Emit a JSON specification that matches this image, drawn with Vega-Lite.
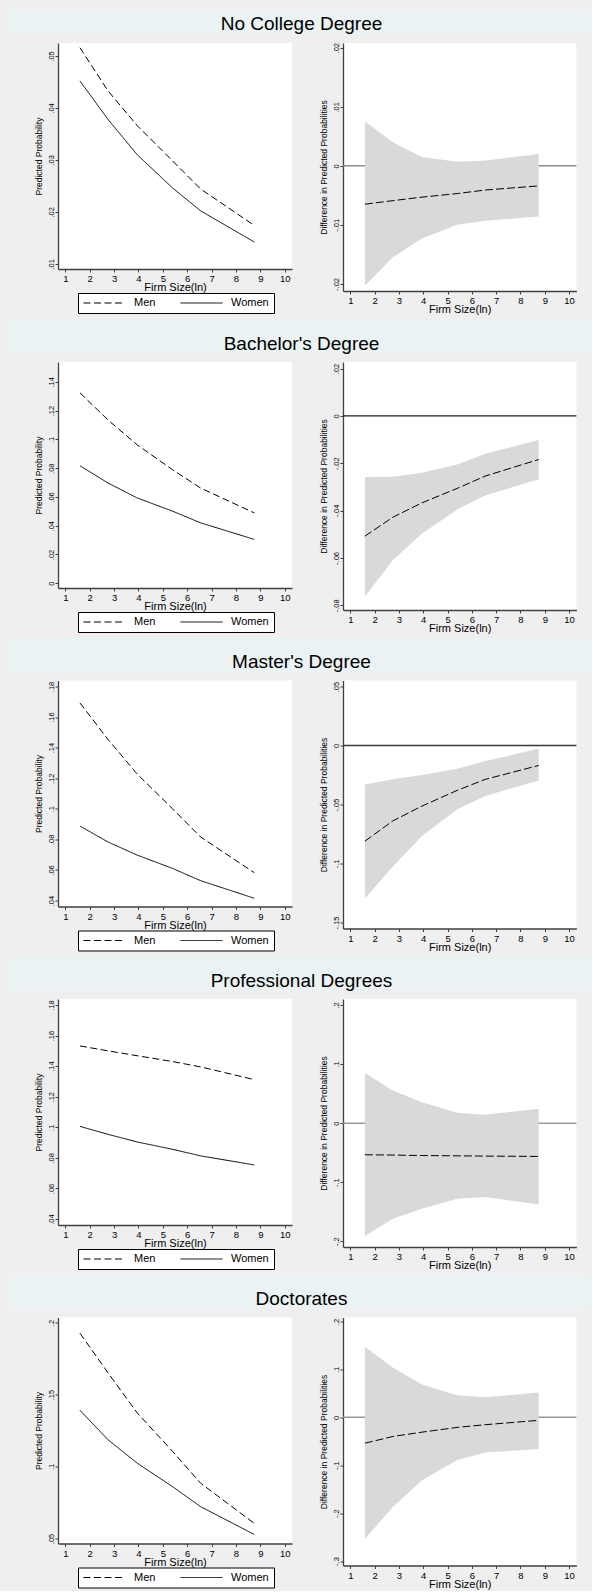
{
  "$schema": "https://vega.github.io/schema/vega-lite/v6.json",
  "background": "#efefef",
  "padding": {"left": 9, "top": 10, "right": 2, "bottom": 2},
  "spacing": 4.5,
  "resolve": {"scale": {"strokeDash": "independent"}, "legend": {"strokeDash": "independent"}},
  "datasets": {
    "titles": [
      {"edu": "NC", "label": "No College Degree"},
      {"edu": "BA", "label": "Bachelor's Degree"},
      {"edu": "MA", "label": "Master's Degree"},
      {"edu": "PR", "label": "Professional Degrees"},
      {"edu": "DR", "label": "Doctorates"}
    ],
    "pred": [
      {"edu": "NC", "sex": "Men", "firm": 1.6, "p": 0.0516}, {"edu": "NC", "sex": "Men", "firm": 2.75, "p": 0.0433}, {"edu": "NC", "sex": "Men", "firm": 3.95, "p": 0.0366}, {"edu": "NC", "sex": "Men", "firm": 5.4, "p": 0.0298}, {"edu": "NC", "sex": "Men", "firm": 6.55, "p": 0.0244}, {"edu": "NC", "sex": "Men", "firm": 8.75, "p": 0.0174},
      {"edu": "NC", "sex": "Women", "firm": 1.6, "p": 0.0452}, {"edu": "NC", "sex": "Women", "firm": 2.75, "p": 0.0378}, {"edu": "NC", "sex": "Women", "firm": 3.95, "p": 0.0310}, {"edu": "NC", "sex": "Women", "firm": 5.4, "p": 0.0246}, {"edu": "NC", "sex": "Women", "firm": 6.55, "p": 0.0202}, {"edu": "NC", "sex": "Women", "firm": 8.75, "p": 0.0142},
      {"edu": "BA", "sex": "Men", "firm": 1.6, "p": 0.1324}, {"edu": "BA", "sex": "Men", "firm": 2.75, "p": 0.1135}, {"edu": "BA", "sex": "Men", "firm": 3.95, "p": 0.0962}, {"edu": "BA", "sex": "Men", "firm": 5.4, "p": 0.0789}, {"edu": "BA", "sex": "Men", "firm": 6.55, "p": 0.0662}, {"edu": "BA", "sex": "Men", "firm": 8.75, "p": 0.0489},
      {"edu": "BA", "sex": "Women", "firm": 1.6, "p": 0.0817}, {"edu": "BA", "sex": "Women", "firm": 2.75, "p": 0.0697}, {"edu": "BA", "sex": "Women", "firm": 3.95, "p": 0.0593}, {"edu": "BA", "sex": "Women", "firm": 5.4, "p": 0.0501}, {"edu": "BA", "sex": "Women", "firm": 6.55, "p": 0.0420}, {"edu": "BA", "sex": "Women", "firm": 8.75, "p": 0.0305},
      {"edu": "MA", "sex": "Men", "firm": 1.6, "p": 0.1692}, {"edu": "MA", "sex": "Men", "firm": 2.75, "p": 0.1454}, {"edu": "MA", "sex": "Men", "firm": 3.95, "p": 0.1227}, {"edu": "MA", "sex": "Men", "firm": 5.4, "p": 0.1000}, {"edu": "MA", "sex": "Men", "firm": 6.55, "p": 0.0816}, {"edu": "MA", "sex": "Men", "firm": 8.75, "p": 0.0582},
      {"edu": "MA", "sex": "Women", "firm": 1.6, "p": 0.0887}, {"edu": "MA", "sex": "Women", "firm": 2.75, "p": 0.0783}, {"edu": "MA", "sex": "Women", "firm": 3.95, "p": 0.0697}, {"edu": "MA", "sex": "Women", "firm": 5.4, "p": 0.0610}, {"edu": "MA", "sex": "Women", "firm": 6.55, "p": 0.0530}, {"edu": "MA", "sex": "Women", "firm": 8.75, "p": 0.0415},
      {"edu": "PR", "sex": "Men", "firm": 1.6, "p": 0.1532}, {"edu": "PR", "sex": "Men", "firm": 2.75, "p": 0.1500}, {"edu": "PR", "sex": "Men", "firm": 3.95, "p": 0.1468}, {"edu": "PR", "sex": "Men", "firm": 5.4, "p": 0.1430}, {"edu": "PR", "sex": "Men", "firm": 6.55, "p": 0.1395}, {"edu": "PR", "sex": "Men", "firm": 8.75, "p": 0.1312},
      {"edu": "PR", "sex": "Women", "firm": 1.6, "p": 0.1006}, {"edu": "PR", "sex": "Women", "firm": 2.75, "p": 0.0954}, {"edu": "PR", "sex": "Women", "firm": 3.95, "p": 0.0904}, {"edu": "PR", "sex": "Women", "firm": 5.4, "p": 0.0856}, {"edu": "PR", "sex": "Women", "firm": 6.55, "p": 0.0813}, {"edu": "PR", "sex": "Women", "firm": 8.75, "p": 0.0754},
      {"edu": "DR", "sex": "Men", "firm": 1.6, "p": 0.1926}, {"edu": "DR", "sex": "Men", "firm": 2.75, "p": 0.1651}, {"edu": "DR", "sex": "Men", "firm": 3.95, "p": 0.1372}, {"edu": "DR", "sex": "Men", "firm": 5.4, "p": 0.1105}, {"edu": "DR", "sex": "Men", "firm": 6.55, "p": 0.0884}, {"edu": "DR", "sex": "Men", "firm": 8.75, "p": 0.0605},
      {"edu": "DR", "sex": "Women", "firm": 1.6, "p": 0.1391}, {"edu": "DR", "sex": "Women", "firm": 2.75, "p": 0.1186}, {"edu": "DR", "sex": "Women", "firm": 3.95, "p": 0.1023}, {"edu": "DR", "sex": "Women", "firm": 5.4, "p": 0.0860}, {"edu": "DR", "sex": "Women", "firm": 6.55, "p": 0.0721}, {"edu": "DR", "sex": "Women", "firm": 8.75, "p": 0.0528}
    ],
    "diff": [
      {"edu": "NC", "firm": 1.6, "d": -0.0065, "lo": -0.0203, "hi": 0.0075}, {"edu": "NC", "firm": 2.75, "d": -0.0059, "lo": -0.0155, "hi": 0.0040}, {"edu": "NC", "firm": 3.95, "d": -0.0053, "lo": -0.0123, "hi": 0.0015}, {"edu": "NC", "firm": 5.4, "d": -0.0047, "lo": -0.0100, "hi": 0.0007}, {"edu": "NC", "firm": 6.55, "d": -0.0041, "lo": -0.0093, "hi": 0.0009}, {"edu": "NC", "firm": 8.75, "d": -0.0034, "lo": -0.0086, "hi": 0.0020},
      {"edu": "BA", "firm": 1.6, "d": -0.0508, "lo": -0.0763, "hi": -0.0258}, {"edu": "BA", "firm": 2.75, "d": -0.0428, "lo": -0.0610, "hi": -0.0257}, {"edu": "BA", "firm": 3.95, "d": -0.0367, "lo": -0.0497, "hi": -0.0240}, {"edu": "BA", "firm": 5.4, "d": -0.0306, "lo": -0.0395, "hi": -0.0205}, {"edu": "BA", "firm": 6.55, "d": -0.0254, "lo": -0.0336, "hi": -0.0160}, {"edu": "BA", "firm": 8.75, "d": -0.0184, "lo": -0.0268, "hi": -0.0102},
      {"edu": "MA", "firm": 1.6, "d": -0.0811, "lo": -0.1296, "hi": -0.0330}, {"edu": "MA", "firm": 2.75, "d": -0.0639, "lo": -0.1025, "hi": -0.0287}, {"edu": "MA", "firm": 3.95, "d": -0.0513, "lo": -0.0766, "hi": -0.0251}, {"edu": "MA", "firm": 5.4, "d": -0.0380, "lo": -0.0541, "hi": -0.0197}, {"edu": "MA", "firm": 6.55, "d": -0.0287, "lo": -0.0428, "hi": -0.0132}, {"edu": "MA", "firm": 8.75, "d": -0.0169, "lo": -0.0296, "hi": -0.0028},
      {"edu": "PR", "firm": 1.6, "d": -0.0535, "lo": -0.1910, "hi": 0.0850}, {"edu": "PR", "firm": 2.75, "d": -0.0540, "lo": -0.1617, "hi": 0.0552}, {"edu": "PR", "firm": 3.95, "d": -0.0548, "lo": -0.1448, "hi": 0.0355}, {"edu": "PR", "firm": 5.4, "d": -0.0553, "lo": -0.1279, "hi": 0.0175}, {"edu": "PR", "firm": 6.55, "d": -0.0558, "lo": -0.1250, "hi": 0.0141}, {"edu": "PR", "firm": 8.75, "d": -0.0563, "lo": -0.1375, "hi": 0.0242},
      {"edu": "DR", "firm": 1.6, "d": -0.0540, "lo": -0.2539, "hi": 0.1473}, {"edu": "DR", "firm": 2.75, "d": -0.0400, "lo": -0.1872, "hi": 0.1038}, {"edu": "DR", "firm": 3.95, "d": -0.0309, "lo": -0.1311, "hi": 0.0687}, {"edu": "DR", "firm": 5.4, "d": -0.0210, "lo": -0.0891, "hi": 0.0463}, {"edu": "DR", "firm": 6.55, "d": -0.0154, "lo": -0.0736, "hi": 0.0421}, {"edu": "DR", "firm": 8.75, "d": -0.0063, "lo": -0.0659, "hi": 0.0519}
    ],
    "zero": [{"ref": 0}],
    "blank": [{"ref": 0}]
  },
  "vconcat": [
    {
      "spacing": 8,
      "resolve": {"scale": {"strokeDash": "independent"}, "legend": {"strokeDash": "independent"}},
      "vconcat": [
        {"width": 581, "height": 24, "view": {"fill": "#eaf2f3", "stroke": null}, "data": {"name": "titles"}, "transform": [{"filter": "datum.edu === 'NC'"}], "mark": {"type": "text", "fontSize": 19, "baseline": "middle", "dy": 1.5, "dx": 2, "color": "black"}, "encoding": {"text": {"field": "label", "type": "nominal"}}},
        {
          "spacing": 0,
          "resolve": {"scale": {"strokeDash": "independent"}, "legend": {"strokeDash": "independent"}},
          "hconcat": [
            {"width": 1, "height": 1, "view": {"fill": null, "stroke": null}, "data": {"name": "blank"}, "mark": {"type": "rect", "opacity": 0}, "encoding": {}},
            {
              "width": 234, "height": 226,
              "data": {"name": "pred"}, "transform": [{"filter": "datum.edu === 'NC'"}],
              "mark": {"type": "line", "color": "black", "strokeWidth": 1},
              "encoding": {
                "x": {"field": "firm", "type": "quantitative", "scale": {"domain": [0.7, 10.3], "nice": false, "zero": false}, "axis": {"title": "Firm Size(ln)", "values": [1, 2, 3, 4, 5, 6, 7, 8, 9, 10]}},
                "y": {"field": "p", "type": "quantitative", "scale": {"domain": [0.009, 0.0525], "nice": false, "zero": false}, "axis": {"title": "Predicted Probability", "titleX": -14.5, "values": [0.01, 0.02, 0.03, 0.04, 0.05], "labelExpr": "replace(toString(datum.value), regexp('^(-?)0[.]'), '$1.')"}},
                "strokeDash": {"field": "sex", "type": "nominal", "scale": {"domain": ["Men", "Women"], "range": [[7, 3.5], [1, 0]]}, "legend": {"title": null, "orient": "none", "legendX": 20, "legendY": 250, "direction": "horizontal"}}
              }
            },
            {
              "width": 233.4, "height": 248,
              "layer": [
                {"data": {"name": "zero"}, "mark": {"type": "rule", "color": "#8c8c8c", "strokeWidth": 1.5}, "encoding": {"y": {"field": "ref", "type": "quantitative", "scale": {"domain": [-0.0212, 0.0208], "nice": false, "zero": false}, "axis": {"title": "Difference in Predicted Probabilities", "titleX": -14.5, "minExtent": 50.3, "maxExtent": 50.3, "values": [-0.02, -0.01, 0, 0.01, 0.02], "labelExpr": "replace(toString(datum.value), regexp('^(-?)0[.]'), '$1.')"}}}},
                {"data": {"name": "diff"}, "transform": [{"filter": "datum.edu === 'NC'"}], "mark": {"type": "area", "color": "#d9d9d9", "opacity": 1}, "encoding": {"x": {"field": "firm", "type": "quantitative", "scale": {"domain": [0.7, 10.3], "nice": false, "zero": false}, "axis": {"title": "Firm Size(ln)", "values": [1, 2, 3, 4, 5, 6, 7, 8, 9, 10]}}, "y": {"field": "lo", "type": "quantitative", "scale": {"domain": [-0.0212, 0.0208], "nice": false, "zero": false}, "axis": {"title": "Difference in Predicted Probabilities", "titleX": -14.5, "minExtent": 50.3, "maxExtent": 50.3, "values": [-0.02, -0.01, 0, 0.01, 0.02], "labelExpr": "replace(toString(datum.value), regexp('^(-?)0[.]'), '$1.')"}}, "y2": {"field": "hi"}}},
                {"data": {"name": "diff"}, "transform": [{"filter": "datum.edu === 'NC'"}], "mark": {"type": "line", "color": "black", "strokeWidth": 1, "strokeDash": [8, 3]}, "encoding": {"x": {"field": "firm", "type": "quantitative", "scale": {"domain": [0.7, 10.3], "nice": false, "zero": false}, "axis": {"title": "Firm Size(ln)", "values": [1, 2, 3, 4, 5, 6, 7, 8, 9, 10]}}, "y": {"field": "d", "type": "quantitative", "scale": {"domain": [-0.0212, 0.0208], "nice": false, "zero": false}, "axis": {"title": "Difference in Predicted Probabilities", "titleX": -14.5, "minExtent": 50.3, "maxExtent": 50.3, "values": [-0.02, -0.01, 0, 0.01, 0.02], "labelExpr": "replace(toString(datum.value), regexp('^(-?)0[.]'), '$1.')"}}}}
              ]
            }
          ]
        }
      ]
    },
    {
      "spacing": 8.5,
      "resolve": {"scale": {"strokeDash": "independent"}, "legend": {"strokeDash": "independent"}},
      "vconcat": [
        {"width": 581, "height": 34, "view": {"fill": "#eaf2f3", "stroke": null}, "data": {"name": "titles"}, "transform": [{"filter": "datum.edu === 'BA'"}], "mark": {"type": "text", "fontSize": 19, "baseline": "middle", "dy": 7, "dx": 2, "color": "black"}, "encoding": {"text": {"field": "label", "type": "nominal"}}},
        {
          "spacing": 0,
          "resolve": {"scale": {"strokeDash": "independent"}, "legend": {"strokeDash": "independent"}},
          "hconcat": [
            {"width": 1, "height": 1, "view": {"fill": null, "stroke": null}, "data": {"name": "blank"}, "mark": {"type": "rect", "opacity": 0}, "encoding": {}},
            {
              "width": 234, "height": 226,
              "data": {"name": "pred"}, "transform": [{"filter": "datum.edu === 'BA'"}],
              "mark": {"type": "line", "color": "black", "strokeWidth": 1},
              "encoding": {
                "x": {"field": "firm", "type": "quantitative", "scale": {"domain": [0.7, 10.3], "nice": false, "zero": false}, "axis": {"title": "Firm Size(ln)", "values": [1, 2, 3, 4, 5, 6, 7, 8, 9, 10]}},
                "y": {"field": "p", "type": "quantitative", "scale": {"domain": [-0.0033, 0.1538], "nice": false, "zero": false}, "axis": {"title": "Predicted Probability", "titleX": -14.5, "values": [0, 0.02, 0.04, 0.06, 0.08, 0.1, 0.12, 0.14], "labelExpr": "replace(toString(datum.value), regexp('^(-?)0[.]'), '$1.')"}},
                "strokeDash": {"field": "sex", "type": "nominal", "scale": {"domain": ["Men", "Women"], "range": [[7, 3.5], [1, 0]]}, "legend": {"title": null, "orient": "none", "legendX": 20, "legendY": 250, "direction": "horizontal"}}
              }
            },
            {
              "width": 233.4, "height": 248,
              "layer": [
                {"data": {"name": "zero"}, "mark": {"type": "rule", "color": "#1e1e1e", "strokeWidth": 1.3}, "encoding": {"y": {"field": "ref", "type": "quantitative", "scale": {"domain": [-0.082, 0.0228], "nice": false, "zero": false}, "axis": {"title": "Difference in Predicted Probabilities", "titleX": -14.5, "minExtent": 50.3, "maxExtent": 50.3, "values": [-0.08, -0.06, -0.04, -0.02, 0, 0.02], "labelExpr": "replace(toString(datum.value), regexp('^(-?)0[.]'), '$1.')"}}}},
                {"data": {"name": "diff"}, "transform": [{"filter": "datum.edu === 'BA'"}], "mark": {"type": "area", "color": "#d9d9d9", "opacity": 1}, "encoding": {"x": {"field": "firm", "type": "quantitative", "scale": {"domain": [0.7, 10.3], "nice": false, "zero": false}, "axis": {"title": "Firm Size(ln)", "values": [1, 2, 3, 4, 5, 6, 7, 8, 9, 10]}}, "y": {"field": "lo", "type": "quantitative", "scale": {"domain": [-0.082, 0.0228], "nice": false, "zero": false}, "axis": {"title": "Difference in Predicted Probabilities", "titleX": -14.5, "minExtent": 50.3, "maxExtent": 50.3, "values": [-0.08, -0.06, -0.04, -0.02, 0, 0.02], "labelExpr": "replace(toString(datum.value), regexp('^(-?)0[.]'), '$1.')"}}, "y2": {"field": "hi"}}},
                {"data": {"name": "diff"}, "transform": [{"filter": "datum.edu === 'BA'"}], "mark": {"type": "line", "color": "black", "strokeWidth": 1, "strokeDash": [8, 3]}, "encoding": {"x": {"field": "firm", "type": "quantitative", "scale": {"domain": [0.7, 10.3], "nice": false, "zero": false}, "axis": {"title": "Firm Size(ln)", "values": [1, 2, 3, 4, 5, 6, 7, 8, 9, 10]}}, "y": {"field": "d", "type": "quantitative", "scale": {"domain": [-0.082, 0.0228], "nice": false, "zero": false}, "axis": {"title": "Difference in Predicted Probabilities", "titleX": -14.5, "minExtent": 50.3, "maxExtent": 50.3, "values": [-0.08, -0.06, -0.04, -0.02, 0, 0.02], "labelExpr": "replace(toString(datum.value), regexp('^(-?)0[.]'), '$1.')"}}}}
              ]
            }
          ]
        }
      ]
    },
    {
      "spacing": 8.5,
      "resolve": {"scale": {"strokeDash": "independent"}, "legend": {"strokeDash": "independent"}},
      "vconcat": [
        {"width": 581, "height": 34, "view": {"fill": "#eaf2f3", "stroke": null}, "data": {"name": "titles"}, "transform": [{"filter": "datum.edu === 'MA'"}], "mark": {"type": "text", "fontSize": 19, "baseline": "middle", "dy": 7, "dx": 2, "color": "black"}, "encoding": {"text": {"field": "label", "type": "nominal"}}},
        {
          "spacing": 0,
          "resolve": {"scale": {"strokeDash": "independent"}, "legend": {"strokeDash": "independent"}},
          "hconcat": [
            {"width": 1, "height": 1, "view": {"fill": null, "stroke": null}, "data": {"name": "blank"}, "mark": {"type": "rect", "opacity": 0}, "encoding": {}},
            {
              "width": 234, "height": 226,
              "data": {"name": "pred"}, "transform": [{"filter": "datum.edu === 'MA'"}],
              "mark": {"type": "line", "color": "black", "strokeWidth": 1},
              "encoding": {
                "x": {"field": "firm", "type": "quantitative", "scale": {"domain": [0.7, 10.3], "nice": false, "zero": false}, "axis": {"title": "Firm Size(ln)", "values": [1, 2, 3, 4, 5, 6, 7, 8, 9, 10]}},
                "y": {"field": "p", "type": "quantitative", "scale": {"domain": [0.0361, 0.1839], "nice": false, "zero": false}, "axis": {"title": "Predicted Probability", "titleX": -14.5, "values": [0.04, 0.06, 0.08, 0.1, 0.12, 0.14, 0.16, 0.18], "labelExpr": "replace(toString(datum.value), regexp('^(-?)0[.]'), '$1.')"}},
                "strokeDash": {"field": "sex", "type": "nominal", "scale": {"domain": ["Men", "Women"], "range": [[7, 3.5], [1, 0]]}, "legend": {"title": null, "orient": "none", "legendX": 20, "legendY": 250, "direction": "horizontal"}}
              }
            },
            {
              "width": 233.4, "height": 248,
              "layer": [
                {"data": {"name": "zero"}, "mark": {"type": "rule", "color": "#3a3a3a", "strokeWidth": 1.3}, "encoding": {"y": {"field": "ref", "type": "quantitative", "scale": {"domain": [-0.1551, 0.0551], "nice": false, "zero": false}, "axis": {"title": "Difference in Predicted Probabilities", "titleX": -14.5, "minExtent": 50.3, "maxExtent": 50.3, "values": [-0.15, -0.1, -0.05, 0, 0.05], "labelExpr": "replace(toString(datum.value), regexp('^(-?)0[.]'), '$1.')"}}}},
                {"data": {"name": "diff"}, "transform": [{"filter": "datum.edu === 'MA'"}], "mark": {"type": "area", "color": "#d9d9d9", "opacity": 1}, "encoding": {"x": {"field": "firm", "type": "quantitative", "scale": {"domain": [0.7, 10.3], "nice": false, "zero": false}, "axis": {"title": "Firm Size(ln)", "values": [1, 2, 3, 4, 5, 6, 7, 8, 9, 10]}}, "y": {"field": "lo", "type": "quantitative", "scale": {"domain": [-0.1551, 0.0551], "nice": false, "zero": false}, "axis": {"title": "Difference in Predicted Probabilities", "titleX": -14.5, "minExtent": 50.3, "maxExtent": 50.3, "values": [-0.15, -0.1, -0.05, 0, 0.05], "labelExpr": "replace(toString(datum.value), regexp('^(-?)0[.]'), '$1.')"}}, "y2": {"field": "hi"}}},
                {"data": {"name": "diff"}, "transform": [{"filter": "datum.edu === 'MA'"}], "mark": {"type": "line", "color": "black", "strokeWidth": 1, "strokeDash": [8, 3]}, "encoding": {"x": {"field": "firm", "type": "quantitative", "scale": {"domain": [0.7, 10.3], "nice": false, "zero": false}, "axis": {"title": "Firm Size(ln)", "values": [1, 2, 3, 4, 5, 6, 7, 8, 9, 10]}}, "y": {"field": "d", "type": "quantitative", "scale": {"domain": [-0.1551, 0.0551], "nice": false, "zero": false}, "axis": {"title": "Difference in Predicted Probabilities", "titleX": -14.5, "minExtent": 50.3, "maxExtent": 50.3, "values": [-0.15, -0.1, -0.05, 0, 0.05], "labelExpr": "replace(toString(datum.value), regexp('^(-?)0[.]'), '$1.')"}}}}
              ]
            }
          ]
        }
      ]
    },
    {
      "spacing": 8.5,
      "resolve": {"scale": {"strokeDash": "independent"}, "legend": {"strokeDash": "independent"}},
      "vconcat": [
        {"width": 581, "height": 34, "view": {"fill": "#eaf2f3", "stroke": null}, "data": {"name": "titles"}, "transform": [{"filter": "datum.edu === 'PR'"}], "mark": {"type": "text", "fontSize": 19, "baseline": "middle", "dy": 7, "dx": 2, "color": "black"}, "encoding": {"text": {"field": "label", "type": "nominal"}}},
        {
          "spacing": 0,
          "resolve": {"scale": {"strokeDash": "independent"}, "legend": {"strokeDash": "independent"}},
          "hconcat": [
            {"width": 1, "height": 1, "view": {"fill": null, "stroke": null}, "data": {"name": "blank"}, "mark": {"type": "rect", "opacity": 0}, "encoding": {}},
            {
              "width": 234, "height": 226,
              "data": {"name": "pred"}, "transform": [{"filter": "datum.edu === 'PR'"}],
              "mark": {"type": "line", "color": "black", "strokeWidth": 1},
              "encoding": {
                "x": {"field": "firm", "type": "quantitative", "scale": {"domain": [0.7, 10.3], "nice": false, "zero": false}, "axis": {"title": "Firm Size(ln)", "values": [1, 2, 3, 4, 5, 6, 7, 8, 9, 10]}},
                "y": {"field": "p", "type": "quantitative", "scale": {"domain": [0.0361, 0.1839], "nice": false, "zero": false}, "axis": {"title": "Predicted Probability", "titleX": -14.5, "values": [0.04, 0.06, 0.08, 0.1, 0.12, 0.14, 0.16, 0.18], "labelExpr": "replace(toString(datum.value), regexp('^(-?)0[.]'), '$1.')"}},
                "strokeDash": {"field": "sex", "type": "nominal", "scale": {"domain": ["Men", "Women"], "range": [[7, 3.5], [1, 0]]}, "legend": {"title": null, "orient": "none", "legendX": 20, "legendY": 250, "direction": "horizontal"}}
              }
            },
            {
              "width": 233.4, "height": 248,
              "layer": [
                {"data": {"name": "zero"}, "mark": {"type": "rule", "color": "#999999", "strokeWidth": 1.5}, "encoding": {"y": {"field": "ref", "type": "quantitative", "scale": {"domain": [-0.2096, 0.2101], "nice": false, "zero": false}, "axis": {"title": "Difference in Predicted Probabilities", "titleX": -14.5, "minExtent": 50.3, "maxExtent": 50.3, "values": [-0.2, -0.1, 0, 0.1, 0.2], "labelExpr": "replace(toString(datum.value), regexp('^(-?)0[.]'), '$1.')"}}}},
                {"data": {"name": "diff"}, "transform": [{"filter": "datum.edu === 'PR'"}], "mark": {"type": "area", "color": "#d9d9d9", "opacity": 1}, "encoding": {"x": {"field": "firm", "type": "quantitative", "scale": {"domain": [0.7, 10.3], "nice": false, "zero": false}, "axis": {"title": "Firm Size(ln)", "values": [1, 2, 3, 4, 5, 6, 7, 8, 9, 10]}}, "y": {"field": "lo", "type": "quantitative", "scale": {"domain": [-0.2096, 0.2101], "nice": false, "zero": false}, "axis": {"title": "Difference in Predicted Probabilities", "titleX": -14.5, "minExtent": 50.3, "maxExtent": 50.3, "values": [-0.2, -0.1, 0, 0.1, 0.2], "labelExpr": "replace(toString(datum.value), regexp('^(-?)0[.]'), '$1.')"}}, "y2": {"field": "hi"}}},
                {"data": {"name": "diff"}, "transform": [{"filter": "datum.edu === 'PR'"}], "mark": {"type": "line", "color": "black", "strokeWidth": 1, "strokeDash": [8, 3]}, "encoding": {"x": {"field": "firm", "type": "quantitative", "scale": {"domain": [0.7, 10.3], "nice": false, "zero": false}, "axis": {"title": "Firm Size(ln)", "values": [1, 2, 3, 4, 5, 6, 7, 8, 9, 10]}}, "y": {"field": "d", "type": "quantitative", "scale": {"domain": [-0.2096, 0.2101], "nice": false, "zero": false}, "axis": {"title": "Difference in Predicted Probabilities", "titleX": -14.5, "minExtent": 50.3, "maxExtent": 50.3, "values": [-0.2, -0.1, 0, 0.1, 0.2], "labelExpr": "replace(toString(datum.value), regexp('^(-?)0[.]'), '$1.')"}}}}
              ]
            }
          ]
        }
      ]
    },
    {
      "spacing": 8.5,
      "resolve": {"scale": {"strokeDash": "independent"}, "legend": {"strokeDash": "independent"}},
      "vconcat": [
        {"width": 581, "height": 34, "view": {"fill": "#eaf2f3", "stroke": null}, "data": {"name": "titles"}, "transform": [{"filter": "datum.edu === 'DR'"}], "mark": {"type": "text", "fontSize": 19, "baseline": "middle", "dy": 7, "dx": 2, "color": "black"}, "encoding": {"text": {"field": "label", "type": "nominal"}}},
        {
          "spacing": 0,
          "resolve": {"scale": {"strokeDash": "independent"}, "legend": {"strokeDash": "independent"}},
          "hconcat": [
            {"width": 1, "height": 1, "view": {"fill": null, "stroke": null}, "data": {"name": "blank"}, "mark": {"type": "rect", "opacity": 0}, "encoding": {}},
            {
              "width": 234, "height": 226,
              "data": {"name": "pred"}, "transform": [{"filter": "datum.edu === 'DR'"}],
              "mark": {"type": "line", "color": "black", "strokeWidth": 1},
              "encoding": {
                "x": {"field": "firm", "type": "quantitative", "scale": {"domain": [0.7, 10.3], "nice": false, "zero": false}, "axis": {"title": "Firm Size(ln)", "values": [1, 2, 3, 4, 5, 6, 7, 8, 9, 10]}},
                "y": {"field": "p", "type": "quantitative", "scale": {"domain": [0.0465, 0.2035], "nice": false, "zero": false}, "axis": {"title": "Predicted Probability", "titleX": -14.5, "values": [0.05, 0.1, 0.15, 0.2], "labelExpr": "replace(toString(datum.value), regexp('^(-?)0[.]'), '$1.')"}},
                "strokeDash": {"field": "sex", "type": "nominal", "scale": {"domain": ["Men", "Women"], "range": [[7, 3.5], [1, 0]]}, "legend": {"title": null, "orient": "none", "legendX": 20, "legendY": 250, "direction": "horizontal"}}
              }
            },
            {
              "width": 233.4, "height": 248,
              "layer": [
                {"data": {"name": "zero"}, "mark": {"type": "rule", "color": "#999999", "strokeWidth": 1.5}, "encoding": {"y": {"field": "ref", "type": "quantitative", "scale": {"domain": [-0.3093, 0.2084], "nice": false, "zero": false}, "axis": {"title": "Difference in Predicted Probabilities", "titleX": -14.5, "minExtent": 50.3, "maxExtent": 50.3, "values": [-0.3, -0.2, -0.1, 0, 0.1, 0.2], "labelExpr": "replace(toString(datum.value), regexp('^(-?)0[.]'), '$1.')"}}}},
                {"data": {"name": "diff"}, "transform": [{"filter": "datum.edu === 'DR'"}], "mark": {"type": "area", "color": "#d9d9d9", "opacity": 1}, "encoding": {"x": {"field": "firm", "type": "quantitative", "scale": {"domain": [0.7, 10.3], "nice": false, "zero": false}, "axis": {"title": "Firm Size(ln)", "values": [1, 2, 3, 4, 5, 6, 7, 8, 9, 10]}}, "y": {"field": "lo", "type": "quantitative", "scale": {"domain": [-0.3093, 0.2084], "nice": false, "zero": false}, "axis": {"title": "Difference in Predicted Probabilities", "titleX": -14.5, "minExtent": 50.3, "maxExtent": 50.3, "values": [-0.3, -0.2, -0.1, 0, 0.1, 0.2], "labelExpr": "replace(toString(datum.value), regexp('^(-?)0[.]'), '$1.')"}}, "y2": {"field": "hi"}}},
                {"data": {"name": "diff"}, "transform": [{"filter": "datum.edu === 'DR'"}], "mark": {"type": "line", "color": "black", "strokeWidth": 1, "strokeDash": [8, 3]}, "encoding": {"x": {"field": "firm", "type": "quantitative", "scale": {"domain": [0.7, 10.3], "nice": false, "zero": false}, "axis": {"title": "Firm Size(ln)", "values": [1, 2, 3, 4, 5, 6, 7, 8, 9, 10]}}, "y": {"field": "d", "type": "quantitative", "scale": {"domain": [-0.3093, 0.2084], "nice": false, "zero": false}, "axis": {"title": "Difference in Predicted Probabilities", "titleX": -14.5, "minExtent": 50.3, "maxExtent": 50.3, "values": [-0.3, -0.2, -0.1, 0, 0.1, 0.2], "labelExpr": "replace(toString(datum.value), regexp('^(-?)0[.]'), '$1.')"}}}}
              ]
            }
          ]
        }
      ]
    }
  ],
  "config": {
    "font": "Liberation Sans",
    "view": {"fill": "white", "stroke": null},
    "text": {"font": "Liberation Sans"},
    "axis": {"grid": false, "domainColor": "#404040", "domainWidth": 1.3, "tickColor": "#404040", "tickWidth": 1, "tickSize": 3, "labelColor": "black", "titleColor": "black", "titleFontWeight": "normal", "labelFont": "Liberation Sans", "titleFont": "Liberation Sans", "labelOverlap": false, "labelFlush": false},
    "axisX": {"labelFontSize": 9.5, "labelPadding": 1.5, "titleFontSize": 11, "titlePadding": 2.5, "minExtent": 10, "maxExtent": 10},
    "axisY": {"labelFontSize": 7.5, "labelAngle": -90, "labelAlign": "center", "labelBaseline": "bottom", "labelPadding": -0.5, "titleFontSize": 8.5, "minExtent": 48, "maxExtent": 48},
    "legend": {"padding": 5, "strokeColor": "black", "fillColor": "white", "symbolType": "stroke", "symbolSize": 1764, "symbolStrokeWidth": 1, "symbolStrokeColor": "black", "labelFontSize": 11, "labelFont": "Liberation Sans", "labelColor": "black", "labelOffset": 8, "columnPadding": 24, "clipHeight": 10}
  }
}
